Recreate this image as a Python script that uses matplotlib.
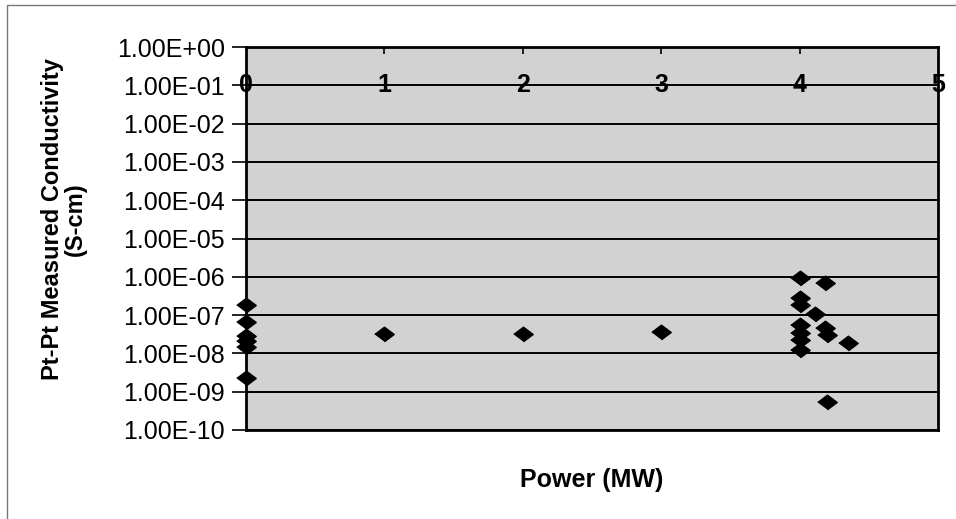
import numpy as np
import matplotlib.pyplot as plt
from matplotlib.patches import Rectangle

plt.rcParams['font.family'] = ['Liberation Sans', 'DejaVu Sans']

# power (MW) and measured conductivity (S-cm)
power = [0, 0, 0, 0, 0, 0,
         1.0, 2.0, 3.0,
         4.0, 4.18, 4.0, 4.0, 4.11, 4.0, 4.0, 4.0, 4.0,
         4.18, 4.2, 4.35, 4.2]
conductivity = [1.8e-7, 6.6e-8, 2.8e-8, 2.1e-8, 1.5e-8, 2.3e-9,
                3.2e-8, 3.2e-8, 3.6e-8,
                9.3e-7, 6.9e-7, 2.8e-7, 1.8e-7, 1.1e-7, 5.5e-8, 3.4e-8, 2.2e-8, 1.2e-8,
                4.6e-8, 3.0e-8, 1.9e-8, 5.4e-10]

x_ticks = [0, 1, 2, 3, 4, 5]
y_ticks = [10.0 ** e for e in range(0, -11, -1)]
y_labels = ["1.00E%+03d" % e if e >= 0 else "1.00E-%02d" % -e for e in range(0, -11, -1)]

fig = plt.figure(figsize=(9.56, 5.19), dpi=100)
ax = fig.add_axes([0.2573, 0.1715, 0.7239, 0.7379])
ax.set_facecolor("#d2d2d2")

diamond = [(-1, 0), (0, 0.75), (1, 0), (0, -0.75)]
ax.plot(power, conductivity, linestyle="none", marker=diamond, markersize=14,
        color="black", zorder=3, clip_on=False)

ax.set_yscale("log")
ax.set_ylim(1e-10, 1e0)
ax.set_xlim(0, 5)
ax.set_yticks(y_ticks)
ax.set_yticklabels(y_labels, fontsize=18)
ax.minorticks_off()
for y in y_ticks:
    ax.axhline(y, color="black", linewidth=1.4, zorder=2)

# x axis labels sit on the 1E-01 line
ax.set_xticks(x_ticks[1:-1])
ax.set_xticklabels([])
ax.tick_params(axis="x", top=True, bottom=False, direction="in", length=5, width=1.2)
ax.tick_params(axis="y", direction="out", length=10, width=1.2, pad=5)
for xv in x_ticks:
    ax.text(xv, 1e-1, str(xv), ha="center", va="center", fontsize=18,
            fontweight="bold", zorder=4)

for s in ax.spines.values():
    s.set_linewidth(2)

ax.set_xlabel("Power (MW)", fontsize=18, fontweight="bold")
ax.xaxis.set_label_coords(0.5, -0.1)
ax.set_ylabel("Pt-Pt Measured Conductivity\n(S-cm)", fontsize=17,
              fontweight="bold", linespacing=1.0)
ax.yaxis.set_label_coords(-0.23, 0.55)

fig.patches.append(Rectangle((0.007, -0.05), 1.1, 1.04, transform=fig.transFigure,
                             fill=False, edgecolor="#777777", linewidth=1))

fig.savefig("out.png", dpi=100)
